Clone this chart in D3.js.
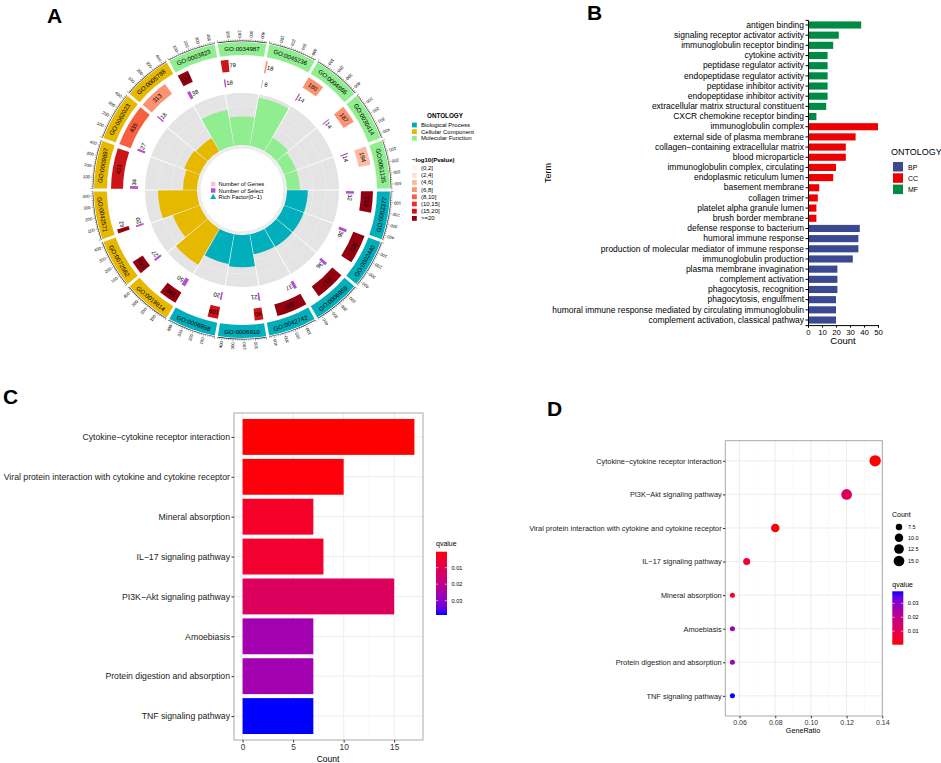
<!DOCTYPE html>
<html>
<head>
<meta charset="utf-8">
<script src="https://cdn.jsdelivr.net/npm/d3@7"></script>
<style>
  body { margin: 0; background: #fff; }
  svg { font-family: "Liberation Sans", Arial, Helvetica, sans-serif; }
</style>
</head>
<body>
<svg id="fig" width="941" height="763"></svg>
<script>
// ---------- A: GO circle ----------
const goIds = ["GO:0003823", "GO:0034987", "GO:0045236", "GO:0004866", "GO:0030414", "GO:0061135",
  "GO:0002377", "GO:0002440", "GO:0006959", "GO:0042742", "GO:0006910", "GO:0006958",
  "GO:0019814", "GO:0072562", "GO:0042571", "GO:0009897", "GO:0062023", "GO:0005788"];
const goOntology = ["MF", "MF", "MF", "MF", "MF", "MF", "BP", "BP", "BP", "BP", "BP", "BP",
  "CC", "CC", "CC", "CC", "CC", "CC"];
const goGenes = [117, 79, 18, 180, 187, 194, 219, 302, 317, 320, 90, 109, 190, 141, 42, 421, 435, 313];
const goSelect = [38, 18, 6, 14, 14, 14, 32, 36, 36, 37, 21, 20, 50, 27, 20, 34, 27, 18];
const goLogP = [30, 17, 7, 7, 7, 5, 25, 25, 28, 30, 17, 17, 40, 22, 22, 16, 9, 7];
const goRich = [0.7, 0.55, 0.94, 0.3, 0.25, 0.25, 0.4, 0.4, 0.4, 0.39, 0.62, 0.58, 0.8, 0.55, 0.75, 0.27, 0.32, 0.29];
const geneTicks = [100, 200, 300, 400];
const ontologyNames = ["Biological Process", "Cellular Component", "Molecular Function"];
const pBins = ["(0,2]", "(2,4]", "(4,6]", "(6,8]", "(8,10]", "(10,15]", "(15,20]", ">=20"];
const pEdges = [2, 4, 6, 8, 10, 15, 20];

// ---------- B: GO bar ----------
const bTerms = ["antigen binding", "signaling receptor activator activity", "immunoglobulin receptor binding",
  "cytokine activity", "peptidase regulator activity", "endopeptidase regulator activity",
  "peptidase inhibitor activity", "endopeptidase inhibitor activity", "extracellular matrix structural constituent",
  "CXCR chemokine receptor binding", "immunoglobulin complex", "external side of plasma membrane",
  "collagen\u2212containing extracellular matrix", "blood microparticle", "immunoglobulin complex, circulating",
  "endoplasmic reticulum lumen", "basement membrane", "collagen trimer", "platelet alpha granule lumen",
  "brush border membrane", "defense response to bacterium", "humoral immune response",
  "production of molecular mediator of immune response", "immunoglobulin production",
  "plasma membrane invagination", "complement activation", "phagocytosis, recognition",
  "phagocytosis, engulfment", "humoral immune response mediated by circulating immunoglobulin",
  "complement activation, classical pathway"];
const bCounts = [38, 22, 18, 14, 14, 14, 14, 14, 13, 6, 50, 34, 27, 27, 20, 18, 8, 7, 6, 6,
  37, 36, 36, 32, 21, 21, 21, 20, 20, 20];
const bOntology = ["MF", "MF", "MF", "MF", "MF", "MF", "MF", "MF", "MF", "MF",
  "CC", "CC", "CC", "CC", "CC", "CC", "CC", "CC", "CC", "CC",
  "BP", "BP", "BP", "BP", "BP", "BP", "BP", "BP", "BP", "BP"];
const bTicks = [0, 10, 20, 30, 40, 50];

// ---------- C: KEGG bar ----------
const cTerms = ["Cytokine\u2212cytokine receptor interaction", "Viral protein interaction with cytokine and cytokine receptor",
  "Mineral absorption", "IL\u221217 signaling pathway", "PI3K\u2212Akt signaling pathway", "Amoebiasis",
  "Protein digestion and absorption", "TNF signaling pathway"];
const cCounts = [17, 10, 7, 8, 15, 7, 7, 7];
const cQ = [0.0003, 0.001, 0.004, 0.005, 0.012, 0.026, 0.026, 0.0387];
const cTicks = [0, 5, 10, 15];
const qTicks = [0.01, 0.02, 0.03];

// ---------- D: KEGG dot ----------
const dTerms = ["Cytokine\u2212cytokine receptor interaction", "PI3K\u2212Akt signaling pathway",
  "Viral protein interaction with cytokine and cytokine receptor", "IL\u221217 signaling pathway",
  "Mineral absorption", "Amoebiasis", "Protein digestion and absorption", "TNF signaling pathway"];
const dRatio = [0.136, 0.12, 0.08, 0.064, 0.056, 0.056, 0.056, 0.056];
const dCounts = [17, 15, 10, 8, 7, 7, 7, 7];
const dQ = [0.0003, 0.012, 0.001, 0.005, 0.004, 0.026, 0.026, 0.0387];
const dTicks = [0.06, 0.08, 0.10, 0.12, 0.14];
const sizeTicks = [7.5, 10.0, 12.5, 15.0];

const svg = d3.select("#fig");
const deg = a => a * 180 / Math.PI;
const polar = (r, a) => [r * Math.sin(a), -r * Math.cos(a)];

// panel letters
[["A", 47, 23], ["B", 587, 20], ["C", 3, 404], ["D", 547, 416]].forEach(([t, x, y]) => {
  svg.append("text").attr("x", x).attr("y", y).style("font-size", "21px").style("font-weight", "bold").text(t);
});

// ================= Panel A =================
const ontColor = { BP: "#00AFBB", CC: "#E7B800", MF: "#90EE90" };
const pColor = d3.scaleThreshold().domain(pEdges)
  .range(["#f7f7f7", "#fde0dd", "#fcbba1", "#fc9272", "#f6603f", "#ee2e2a", "#cc1419", "#930010"]);
const gA = svg.append("g").attr("transform", "translate(242,190)");
const sector = d3.scaleBand().domain(goIds).range([-Math.PI / 6, 2 * Math.PI - Math.PI / 6])
  .paddingInner(0.06).paddingOuter(0.03);
const bw = sector.bandwidth();
const geneAng = d3.scaleLinear().domain([0, 440]).range([0, bw]);
const richR = d3.scaleLinear().domain([0, 1]).range([45, 97]);
const arc = d3.arc();
const idx = goIds.map((d, i) => i);

// outer ontology ring
gA.selectAll(".ring").data(idx).join("path")
  .attr("d", i => arc({ innerRadius: 135, outerRadius: 148, startAngle: sector(goIds[i]), endAngle: sector(goIds[i]) + bw }))
  .attr("fill", i => ontColor[goOntology[i]]);
gA.selectAll(".ringLab").data(idx).join("text")
  .attr("transform", i => {
    const a = sector(goIds[i]) + bw / 2;
    const [x, y] = polar(141.5, a);
    let r = deg(a);
    if (r > 90 && r < 270) r -= 180;
    return `translate(${x},${y}) rotate(${r})`;
  })
  .attr("text-anchor", "middle").attr("dominant-baseline", "central")
  .style("font-size", "6.2px").text(i => goIds[i]);

// axis ring with ticks
idx.forEach(i => {
  const s = sector(goIds[i]);
  gA.append("path")
    .attr("d", arc({ innerRadius: 148.8, outerRadius: 149.4, startAngle: s, endAngle: s + bw }))
    .attr("fill", "#222");
  d3.range(0, 441, 20).forEach(v => {
    const a = s + geneAng(v);
    const major = v % 100 === 0;
    const [x1, y1] = polar(149.2, a), [x2, y2] = polar(major ? 151.6 : 150.6, a);
    gA.append("line").attr("x1", x1).attr("y1", y1).attr("x2", x2).attr("y2", y2)
      .attr("stroke", "#222").attr("stroke-width", 0.4);
  });
  geneTicks.forEach(v => {
    const a = s + geneAng(v);
    const [x, y] = polar(152.5, a);
    gA.append("text").attr("transform", `translate(${x},${y}) rotate(${deg(a) + 90})`)
      .attr("text-anchor", "end").attr("dominant-baseline", "central")
      .style("font-size", "4.3px").text(v);
  });
});

// number of genes track
gA.selectAll(".gene").data(idx).join("path")
  .attr("d", i => arc({ innerRadius: 119, outerRadius: 131, startAngle: sector(goIds[i]), endAngle: sector(goIds[i]) + geneAng(goGenes[i]) }))
  .attr("fill", i => pColor(goLogP[i]));
gA.selectAll(".geneLab").data(idx).join("text")
  .attr("transform", i => {
    const w = geneAng(goGenes[i]);
    const a = sector(goIds[i]) + (w < 0.06 ? w + 0.03 : w / 2);
    const [x, y] = polar(125, a);
    return `translate(${x},${y}) rotate(${deg(a)})`;
  })
  .attr("text-anchor", "middle").attr("dominant-baseline", "central")
  .style("font-size", "6px").text(i => goGenes[i]);

// number of select track
gA.selectAll(".sel").data(idx).join("path")
  .attr("d", i => arc({ innerRadius: 104, outerRadius: 112, startAngle: sector(goIds[i]), endAngle: sector(goIds[i]) + geneAng(goSelect[i]) }))
  .attr("fill", "#B452CD");
gA.selectAll(".selLab").data(idx).join("text")
  .attr("transform", i => {
    const a = sector(goIds[i]) + geneAng(goSelect[i]) + 0.035;
    const [x, y] = polar(108, a);
    return `translate(${x},${y}) rotate(${deg(a)})`;
  })
  .attr("text-anchor", "middle").attr("dominant-baseline", "central")
  .style("font-size", "6px").text(i => goSelect[i]);

// rich factor track
gA.selectAll(".rbg").data(idx).join("path")
  .attr("d", i => arc({ innerRadius: richR(0), outerRadius: richR(1), startAngle: sector(goIds[i]) - 0.005, endAngle: sector(goIds[i]) + bw + 0.005 }))
  .attr("fill", "#e4e4e4");
[0.25, 0.5, 0.75].forEach(v => {
  idx.forEach(i => {
    gA.append("path")
      .attr("d", arc({ innerRadius: richR(v) - 0.3, outerRadius: richR(v) + 0.3, startAngle: sector(goIds[i]), endAngle: sector(goIds[i]) + bw }))
      .attr("fill", "#eeeeee");
  });
});
gA.selectAll(".rich").data(idx).join("path")
  .attr("d", i => arc({ innerRadius: richR(0), outerRadius: richR(goRich[i]), startAngle: sector(goIds[i]) - 0.005, endAngle: sector(goIds[i]) + bw + 0.005 }))
  .attr("fill", i => ontColor[goOntology[i]]);
gA.append("path").attr("d", arc({ innerRadius: 41.5, outerRadius: 44.5, startAngle: 0, endAngle: 2 * Math.PI }))
  .attr("fill", "#ececec");

// centre legend
const centreLeg = [["Number of Genes", "#F4C2D0", "rect"], ["Number of Select", "#B452CD", "rect"], ["Rich Factor(0\u22121)", "#00AFBB", "tri"]];
centreLeg.forEach(([t, c, shape], k) => {
  const y = 184 + k * 6.5;
  if (shape === "rect") svg.append("rect").attr("x", 211).attr("y", y - 2.2).attr("width", 4.4).attr("height", 4.4).attr("fill", c);
  else svg.append("path").attr("d", d3.symbol(d3.symbolTriangle, 16)()).attr("transform", `translate(213.2,${y + 0.3})`).attr("fill", c);
  svg.append("text").attr("x", 218.5).attr("y", y).attr("dominant-baseline", "central").style("font-size", "5.8px").text(t);
});

// right legend
svg.append("text").attr("x", 427).attr("y", 118).style("font-size", "6.3px").style("font-weight", "bold").text("ONTOLOGY");
["BP", "CC", "MF"].forEach((o, k) => {
  const y = 125 + k * 6.6;
  svg.append("rect").attr("x", 412).attr("y", y - 2.4).attr("width", 4.8).attr("height", 4.8).attr("fill", ontColor[o]);
  svg.append("text").attr("x", 421).attr("y", y).attr("dominant-baseline", "central").style("font-size", "6px").text(ontologyNames[k]);
});
svg.append("text").attr("x", 412).attr("y", 162).style("font-size", "6px").style("font-weight", "bold").text("\u2212log10(Pvalue)");
pBins.forEach((b, k) => {
  const y = 168 + k * 7.2;
  svg.append("rect").attr("x", 412).attr("y", y - 2.4).attr("width", 4.8).attr("height", 4.8).attr("fill", pColor.range()[k]);
  svg.append("text").attr("x", 421).attr("y", y).attr("dominant-baseline", "central").style("font-size", "6px").text(b);
});

// ================= Panel B =================
const bColor = { BP: "#3B4992", CC: "#EE0000", MF: "#008B45" };
const bX = d3.scaleLinear().domain([0, 50]).range([808, 878]);
const bY = d3.scaleBand().domain(bTerms).range([19.9, 325.1]).paddingInner(0.3).paddingOuter(0.15);
svg.append("g").selectAll("rect").data(bTerms).join("rect")
  .attr("x", bX(0)).attr("y", d => bY(d))
  .attr("width", (d, i) => bX(bCounts[i]) - bX(0)).attr("height", bY.bandwidth())
  .attr("fill", (d, i) => bColor[bOntology[i]]);
const bAxY = svg.append("g").attr("transform", `translate(${bX(0)},0)`)
  .call(d3.axisLeft(bY).tickSizeOuter(0).tickSize(2.5).tickPadding(1.5));
bAxY.selectAll("text").style("font-size", "8.5px").attr("fill", "#000");
const bAxX = svg.append("g").attr("transform", "translate(0,325.1)")
  .call(d3.axisBottom(bX).tickValues(bTicks).tickSizeOuter(0).tickSize(2.5).tickPadding(1.5));
bAxX.selectAll("text").style("font-size", "7.8px").attr("fill", "#000");
svg.append("text").attr("x", 843).attr("y", 344).attr("text-anchor", "middle").style("font-size", "9.5px").text("Count");
svg.append("text").attr("transform", "translate(551,173) rotate(-90)").attr("text-anchor", "middle")
  .style("font-size", "9px").text("Term");
svg.append("text").attr("x", 891).attr("y", 155).style("font-size", "9px").text("ONTOLOGY");
["BP", "CC", "MF"].forEach((o, k) => {
  const y = 162 + k * 11.3;
  svg.append("rect").attr("x", 893).attr("y", y).attr("width", 10).attr("height", 9.5).attr("fill", bColor[o]);
  svg.append("text").attr("x", 908).attr("y", y + 5).attr("dominant-baseline", "central").style("font-size", "7px").text(o);
});

// ================= Panel C =================
const qExtent = d3.extent(cQ);
const qColor = d3.scaleLinear().domain(qExtent).range(["red", "blue"]).interpolate(d3.interpolateLab);
const cX = d3.scaleLinear().domain([-0.85, 17.85]).range([234, 423]);
const cY = d3.scalePoint().domain(cTerms).range([413, 740]).padding(0.6);
const cStep = cY.step();
const gC = svg.append("g");
[2.5, 7.5, 12.5, 17.5].forEach(v => gC.append("line").attr("x1", cX(v)).attr("x2", cX(v)).attr("y1", 413).attr("y2", 740).attr("stroke", "#f4f4f4").attr("stroke-width", 0.5));
cTicks.forEach(v => gC.append("line").attr("x1", cX(v)).attr("x2", cX(v)).attr("y1", 413).attr("y2", 740).attr("stroke", "#ebebeb").attr("stroke-width", 0.9));
cTerms.forEach(t => gC.append("line").attr("x1", 234).attr("x2", 423).attr("y1", cY(t)).attr("y2", cY(t)).attr("stroke", "#ebebeb").attr("stroke-width", 0.9));
gC.selectAll(".bar").data(cTerms).join("rect")
  .attr("x", cX(0)).attr("y", d => cY(d) - cStep * 0.45)
  .attr("width", (d, i) => cX(cCounts[i]) - cX(0)).attr("height", cStep * 0.9)
  .attr("fill", (d, i) => qColor(cQ[i]));
gC.append("rect").attr("x", 234).attr("y", 413).attr("width", 189).attr("height", 327)
  .attr("fill", "none").attr("stroke", "#a9a9a9").attr("stroke-width", 1);
const cAxY = gC.append("g").attr("transform", "translate(234,0)").call(d3.axisLeft(cY).tickSizeOuter(0).tickSize(2.5).tickPadding(1.5));
cAxY.select(".domain").remove();
cAxY.selectAll("line").attr("stroke", "#333");
cAxY.selectAll("text").style("font-size", "8.7px").attr("fill", "#1a1a1a");
const cAxX = gC.append("g").attr("transform", "translate(0,740)").call(d3.axisBottom(cX).tickValues(cTicks).tickSizeOuter(0).tickSize(2.5).tickPadding(1.5));
cAxX.select(".domain").remove();
cAxX.selectAll("line").attr("stroke", "#333");
cAxX.selectAll("text").style("font-size", "8.3px").attr("fill", "#333");
gC.append("text").attr("x", 328).attr("y", 762).attr("text-anchor", "middle").style("font-size", "8.5px").text("Count");

// colour bar helper
function colourBar(id, x, y0, y1, barScale, title, titleY) {
  const defs = svg.append("defs");
  const grad = defs.append("linearGradient").attr("id", id).attr("x1", 0).attr("x2", 0)
    .attr("y1", 0).attr("y2", 1);
  const top = barScale.invert(Math.min(y0, y1)), bot = barScale.invert(Math.max(y0, y1));
  d3.range(0, 1.001, 0.1).forEach(t => {
    grad.append("stop").attr("offset", t).attr("stop-color", qColor(top + (bot - top) * t));
  });
  const yt = Math.min(y0, y1), h = Math.abs(y1 - y0);
  svg.append("text").attr("x", x).attr("y", titleY).style("font-size", "7px").text(title);
  svg.append("rect").attr("x", x).attr("y", yt).attr("width", 11).attr("height", h).attr("fill", `url(#${id})`);
  qTicks.forEach(q => {
    const yy = barScale(q);
    svg.append("line").attr("x1", x).attr("x2", x + 2.2).attr("y1", yy).attr("y2", yy).attr("stroke", "#fff").attr("stroke-width", 0.6);
    svg.append("line").attr("x1", x + 8.8).attr("x2", x + 11).attr("y1", yy).attr("y2", yy).attr("stroke", "#fff").attr("stroke-width", 0.6);
    svg.append("text").attr("x", x + 15.5).attr("y", yy).attr("dominant-baseline", "central").style("font-size", "5.6px").text(q.toFixed(2));
  });
}
colourBar("gradC", 436, 551.7, 615, d3.scaleLinear().domain(qExtent).range([551.7, 615]), "qvalue", 545.5);

// ================= Panel D =================
const dX = d3.scaleLinear().domain([0.052, 0.14]).range([725.3, 882.3]);
const dY = d3.scalePoint().domain(dTerms).range([440.7, 716]).padding(0.6);
const dSize = d3.scaleLinear().domain(d3.extent(dCounts)).range([0, 1]);
const dR = c => 2.5 + 3.2 * Math.sqrt(Math.max(0, dSize(c)));
const gD = svg.append("g");
[0.07, 0.09, 0.11, 0.13].forEach(v => gD.append("line").attr("x1", dX(v)).attr("x2", dX(v)).attr("y1", 440.7).attr("y2", 716).attr("stroke", "#f4f4f4").attr("stroke-width", 0.5));
dTicks.forEach(v => gD.append("line").attr("x1", dX(v)).attr("x2", dX(v)).attr("y1", 440.7).attr("y2", 716).attr("stroke", "#ebebeb").attr("stroke-width", 0.9));
dTerms.forEach(t => gD.append("line").attr("x1", 725.3).attr("x2", 882.3).attr("y1", dY(t)).attr("y2", dY(t)).attr("stroke", "#ebebeb").attr("stroke-width", 0.9));
gD.selectAll(".dot").data(dTerms).join("circle")
  .attr("cx", (d, i) => dX(dRatio[i])).attr("cy", d => dY(d))
  .attr("r", (d, i) => dR(dCounts[i]))
  .attr("fill", (d, i) => qColor(dQ[i]));
gD.append("rect").attr("x", 725.3).attr("y", 440.7).attr("width", 157).attr("height", 275.3)
  .attr("fill", "none").attr("stroke", "#a9a9a9").attr("stroke-width", 1);
const dAxY = gD.append("g").attr("transform", "translate(725.3,0)").call(d3.axisLeft(dY).tickSizeOuter(0).tickSize(2.3).tickPadding(1.3));
dAxY.select(".domain").remove();
dAxY.selectAll("line").attr("stroke", "#333");
dAxY.selectAll("text").style("font-size", "7.4px").attr("fill", "#1a1a1a");
const dAxX = gD.append("g").attr("transform", "translate(0,716)").call(d3.axisBottom(dX).tickValues(dTicks).tickFormat(d3.format(".2f")).tickSizeOuter(0).tickSize(2.3).tickPadding(1.5));
dAxX.select(".domain").remove();
dAxX.selectAll("line").attr("stroke", "#333");
dAxX.selectAll("text").style("font-size", "7px").attr("fill", "#333");
gD.append("text").attr("x", 803).attr("y", 733).attr("text-anchor", "middle").style("font-size", "7.2px").text("GeneRatio");

// size legend
svg.append("text").attr("x", 892).attr("y", 517).style("font-size", "7px").text("Count");
sizeTicks.forEach((c, k) => {
  const y = [527, 537.7, 549, 561][k];
  svg.append("circle").attr("cx", 899).attr("cy", y).attr("r", dR(c)).attr("fill", "#000");
  svg.append("text").attr("x", 908).attr("y", y).attr("dominant-baseline", "central").style("font-size", "5.4px").text(c.toFixed(1));
});
colourBar("gradD", 892.3, 644.7, 591.3, d3.scaleLinear().domain(qExtent).range([644.7, 591.3]), "qvalue", 586.5);
</script>
</body>
</html>
